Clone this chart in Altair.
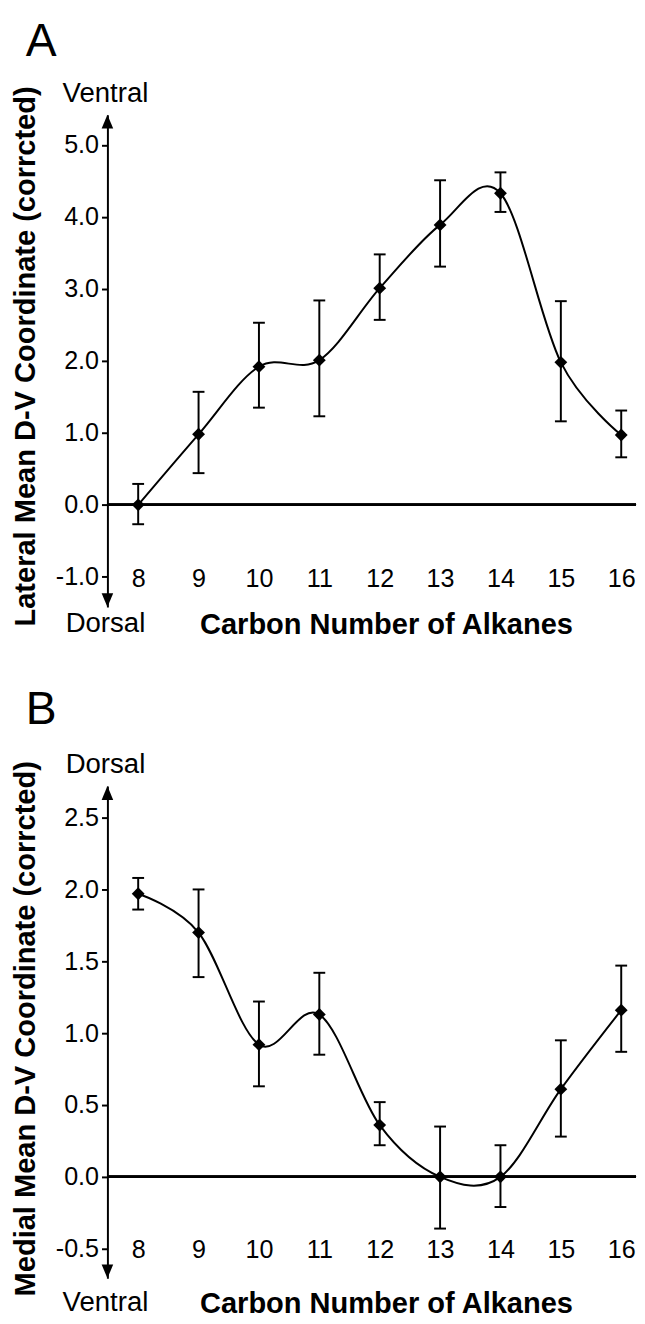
import altair as alt
import pandas as pd

# ---- data ----
carbons = [8, 9, 10, 11, 12, 13, 14, 15, 16]

lat_mean = [0.00, 0.98, 1.92, 2.01, 3.01, 3.89, 4.33, 1.98, 0.97]
lat_lo = [-0.27, 0.44, 1.35, 1.23, 2.57, 3.31, 4.07, 1.16, 0.66]
lat_hi = [0.29, 1.57, 2.53, 2.84, 3.48, 4.51, 4.62, 2.83, 1.31]

med_mean = [1.97, 1.70, 0.92, 1.13, 0.36, 0.00, 0.00, 0.61, 1.16]
med_lo = [1.86, 1.39, 0.63, 0.85, 0.22, -0.36, -0.21, 0.28, 0.87]
med_hi = [2.08, 2.00, 1.22, 1.42, 0.52, 0.35, 0.22, 0.95, 1.47]

lat_ticks = [-1.0, 0.0, 1.0, 2.0, 3.0, 4.0, 5.0]
med_ticks = [-0.5, 0.0, 0.5, 1.0, 1.5, 2.0, 2.5]

x_title = "Carbon Number of Alkanes"
lat_title = "Lateral Mean D-V Coordinate (corrcted)"
med_title = "Medial Mean D-V Coordinate (corrcted)"

FONT = "Liberation Sans"
W = 537
H = 500
X_DOMAIN = [7.4905, 16.245]

UP = "M0,0L-0.42,1L0.42,1Z"
DOWN = "M0,0L-0.42,-1L0.42,-1Z"


def panel(letter, mean, lo, hi, ydomain, yticks, ytitle, top_word, bottom_word,
          title_y, bottom_word_y, ytitle_y, letter_y):
    df = pd.DataFrame({"c": carbons, "m": mean, "lo": lo, "hi": hi})
    one = pd.DataFrame({"k": [0]})

    x_enc = alt.X(
        "c:Q",
        scale=alt.Scale(domain=X_DOMAIN, nice=False, zero=False),
        axis=alt.Axis(
            values=carbons, format="d", domain=False, ticks=False,
            tickSize=0, grid=False, offset=-29,
            labelFont=FONT, labelFontSize=25.5, labelColor="black",
            labelBaseline="middle", labelPadding=0, labelFlush=False,
            labelOverlap=False,
            title=x_title, titleFont=FONT, titleFontSize=29.5,
            titleFontWeight="bold", titleColor="black", titleX=283,
            titleY=title_y, titleBaseline="middle", titleAlign="center",
        ),
    )
    y_enc = alt.Y(
        "m:Q",
        scale=alt.Scale(domain=ydomain, nice=False, zero=False),
        axis=alt.Axis(
            values=yticks, grid=False, domainColor="black", domainWidth=2,
            tickColor="black", tickWidth=2, tickSize=6,
            labelExpr="replace(format(datum.value, '.1f'), '\u2212', '-')",
            labelFont=FONT, labelFontSize=25.5, labelColor="black",
            labelPadding=3, labelOverlap=False, labelFlush=False,
            title=ytitle, titleFont=FONT, titleFontSize=29.5,
            titleFontWeight="bold", titleColor="black", titleX=-83,
            titleY=ytitle_y, titleAngle=270, titleAlign="center",
            titleBaseline="middle",
        ),
    )

    base = alt.Chart(df)
    line = base.mark_line(color="black", strokeWidth=2,
                          interpolate="cardinal").encode(x=x_enc, y=y_enc)
    zero = base.mark_rule(color="black", strokeWidth=2).encode(y=alt.datum(0))
    bars = base.mark_rule(color="black", strokeWidth=2).encode(
        x="c:Q", y="lo:Q", y2="hi:Q")
    cap_lo = base.mark_tick(color="black", orient="horizontal", size=12,
                            thickness=2, opacity=1).encode(x="c:Q", y="lo:Q")
    cap_hi = base.mark_tick(color="black", orient="horizontal", size=12,
                            thickness=2, opacity=1).encode(x="c:Q", y="hi:Q")
    pts = base.mark_point(shape="diamond", filled=True, size=170,
                          color="black", opacity=1).encode(x="c:Q", y="m:Q")

    arr_top = alt.Chart(one).mark_point(shape=UP, filled=True, size=784,
                                         color="black", opacity=1).encode(
        x=alt.datum(X_DOMAIN[0]), y=alt.datum(ydomain[1]))
    arr_bot = alt.Chart(one).mark_point(shape=DOWN, filled=True, size=784,
                                         color="black", opacity=1).encode(
        x=alt.datum(X_DOMAIN[0]), y=alt.datum(ydomain[0]))

    txt_letter = alt.Chart(one).mark_text(
        text=letter, font=FONT, fontSize=47, align="left",
        baseline="top", color="black").encode(
        x=alt.value(-83), y=alt.value(letter_y))
    txt_top = alt.Chart(one).mark_text(
        text=top_word, font=FONT, fontSize=28, align="center",
        baseline="middle", color="black").encode(
        x=alt.value(-2), y=alt.value(-21.5))
    txt_bot = alt.Chart(one).mark_text(
        text=bottom_word, font=FONT, fontSize=28, align="center",
        baseline="middle", color="black").encode(
        x=alt.value(-2), y=alt.value(H + bottom_word_y))

    return alt.layer(line, zero, bars, cap_lo, cap_hi, pts, arr_top,
                     arr_bot, txt_letter, txt_top, txt_bot).properties(
        width=W, height=H)


panel_a = panel("A", lat_mean, lat_lo, lat_hi, [-1.42, 5.42], lat_ticks,
                lat_title, "Ventral", "Dorsal", 47, 17.5, 245, -97)
panel_b = panel("B", med_mean, med_lo, med_hi, [-0.706, 2.719], med_ticks,
                med_title, "Dorsal", "Ventral", 54.5, 25, 246, -100.5)

chart = alt.vconcat(panel_a, panel_b, spacing=47).properties(
    padding={"left": 2, "top": 0, "right": 0, "bottom": 0},
    background="white",
).configure_view(stroke=None)

chart.save("out.html", embed_options={"renderer": "svg", "actions": False})
